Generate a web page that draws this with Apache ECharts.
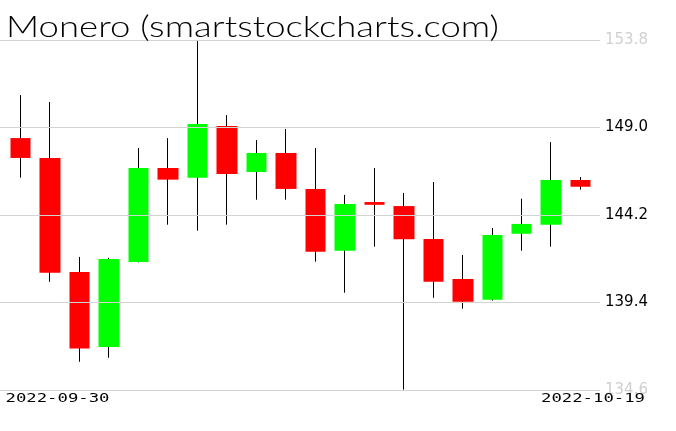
<!DOCTYPE html>
<html>
<head>
<meta charset="utf-8">
<script src="https://cdn.jsdelivr.net/npm/echarts@6/dist/echarts.min.js"></script>
<style>html,body{margin:0;padding:0;background:#fff}#c{width:676px;height:431px}</style>
</head>
<body>
<div id="c"></div>
<script>
const titleText = 'Monero (smartstockcharts.com)';
const dates = ['2022-09-30','2022-10-01','2022-10-02','2022-10-03','2022-10-04','2022-10-05','2022-10-06','2022-10-07','2022-10-08','2022-10-09','2022-10-10','2022-10-11','2022-10-12','2022-10-13','2022-10-14','2022-10-15','2022-10-16','2022-10-17','2022-10-18','2022-10-19'];
const opens  = [148.42,147.33,141.07,136.96,141.62,146.78,146.25,149.08,146.56,147.60,145.63,142.24,144.91,144.69,142.88,140.69,139.55,143.17,143.67,146.12];
const closes = [147.33,141.03,136.87,141.79,146.78,146.14,149.19,146.45,147.60,145.63,142.19,144.80,144.76,142.87,140.54,139.44,143.10,143.71,146.12,145.75];
const lows   = [146.25,140.54,136.15,136.37,141.60,143.67,143.34,143.67,145.04,145.04,141.64,139.94,142.46,134.62,139.66,139.06,139.50,142.24,142.46,145.59];
const highs  = [150.78,150.40,141.90,141.85,147.87,148.42,153.74,149.68,148.31,148.92,147.87,145.30,146.78,145.41,146.01,142.01,143.49,145.09,148.20,146.28];
const yTicks = [134.6,139.4,144.2,149.0,153.8];
const yMin = 134.6, yMax = 153.8;

function measure(text, font){
  const ctx = document.createElement('canvas').getContext('2d');
  ctx.font = font; return ctx.measureText(text).width;
}
const titleFont = '300 29px "Lato"';
const titleW = measure(titleText, titleFont);
const dateFont = '13px "DejaVu Sans Mono"';
const dateW = measure(dates[0], dateFont);

const wickData = opens.map((o,i)=>[o, closes[i], lows[i], highs[i]]);
const bodyData = opens.map((o,i)=>[o, closes[i], Math.min(o,closes[i]), Math.max(o,closes[i])]);

const chart = echarts.init(document.getElementById('c'), null, {renderer:'canvas'});
chart.setOption({
  animation:false,
  backgroundColor:'#fff',
  grid:[
    {left:0, top:40, width:600, height:350},
    {left:6, top:40, width:589.4, height:350}
  ],
  xAxis:[
    {gridIndex:0, type:'value', min:0, max:1, show:false},
    {gridIndex:1, type:'category', data:dates, boundaryGap:true, show:false}
  ],
  yAxis:[
    {gridIndex:0, type:'value', min:yMin, max:yMax, position:'right',
     axisLine:{show:false}, axisTick:{show:false, customValues:yTicks}, splitLine:{show:false},
     axisLabel:{show:true, customValues:yTicks, margin:5, fontFamily:'DejaVu Sans', fontSize:15,
       verticalAlign:'middle', padding:[0,0,13,0],
       formatter:v=>Number(v).toFixed(1),
       color:v=>(Math.abs(+v-yMin)<1e-6||Math.abs(+v-yMax)<1e-6)?'#d0d0d0':'#000'}},
    {gridIndex:1, type:'value', min:yMin, max:yMax, show:false}
  ],
  graphic:[
    {type:'text', x:6, y:28, scaleX:493/titleW, z:100,
     style:{text:titleText, font:titleFont, fill:'#000', align:'left', verticalAlign:'middle'}},
    {type:'text', x:5.5, y:399, scaleX:104/dateW, z:100,
     style:{text:dates[0], font:dateFont, fill:'#000', align:'left', verticalAlign:'middle'}},
    {type:'text', x:645, y:399, scaleX:104/dateW, z:100,
     style:{text:dates[dates.length-1], font:dateFont, fill:'#000', align:'right', verticalAlign:'middle'}}
  ],
  series:[
    {type:'candlestick', xAxisIndex:1, yAxisIndex:1, data:wickData, barWidth:1, z:2, silent:true,
     itemStyle:{color:'#000', color0:'#000', borderColor:'#000', borderColor0:'#000', borderWidth:1}},
    {type:'candlestick', xAxisIndex:1, yAxisIndex:1, data:bodyData, barWidth:21, z:3, silent:true,
     itemStyle:{color:'#00ff00', color0:'#ff0000', borderColor:'#00ff00', borderColor0:'#ff0000', borderWidth:0}},
    {type:'line', xAxisIndex:0, yAxisIndex:0, data:[], z:10, silent:true,
     markLine:{silent:true, symbol:['none','none'], label:{show:false},
       lineStyle:{color:'#d3d3d3', width:1, type:'solid'},
       data:yTicks.map(v=>({yAxis:v}))}}
  ]
});
</script>
</body>
</html>
